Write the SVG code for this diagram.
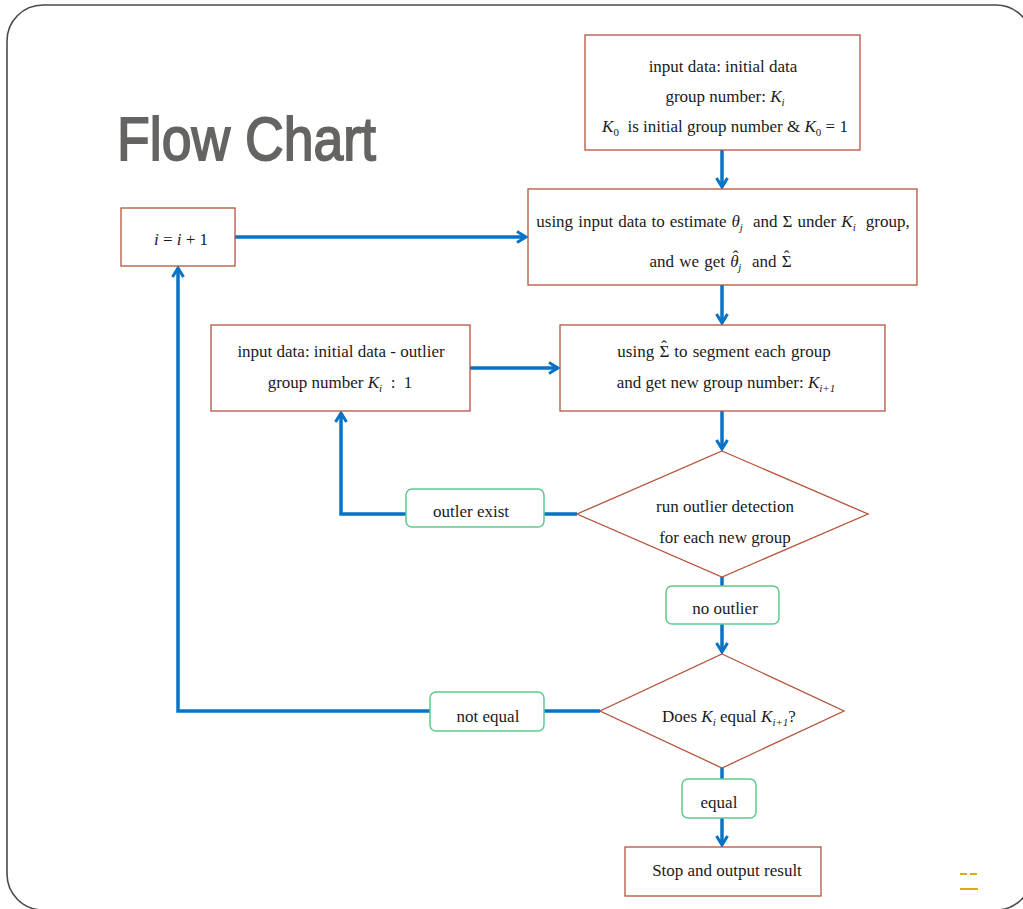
<svg xmlns="http://www.w3.org/2000/svg" width="1023" height="909" viewBox="0 0 1023 909">
<defs>
<style>
.box{fill:#fff;stroke:#B5533B;stroke-width:1.3}
.lbl{fill:#fff;stroke:#5CCB8C;stroke-width:1.5}
.t{font-family:"Liberation Serif","DejaVu Serif",serif;font-size:17px;fill:#1a1a1a;text-anchor:middle;white-space:pre}
.m{font-style:italic}
.s{font-size:11px}
.c{fill:none;stroke:#0872C6;stroke-width:3.5}
</style>
<marker id="arr" viewBox="0 0 14 14" refX="12" refY="7" markerWidth="14" markerHeight="14" markerUnits="userSpaceOnUse" orient="auto">
<path d="M3,1.5 L12,7 L3,12.5" fill="none" stroke="#0872C6" stroke-width="3" stroke-linejoin="miter"/>
</marker>
</defs>
<rect width="1023" height="909" fill="#fff"/>
<rect x="7" y="5" width="1025" height="905" rx="36" fill="none" stroke="#4a4a4a" stroke-width="1.6"/>
<text x="117" y="160" font-family="Liberation Sans, Arial, sans-serif" font-size="62" fill="#666462" stroke="#666462" stroke-width="1.8" textLength="259" lengthAdjust="spacingAndGlyphs">Flow Chart</text>

<g id="connectors">
<line class="c" x1="722" y1="150" x2="722" y2="187" marker-end="url(#arr)"/>
<line class="c" x1="235" y1="237" x2="526" y2="237" marker-end="url(#arr)"/>
<line class="c" x1="722" y1="285" x2="722" y2="323" marker-end="url(#arr)"/>
<line class="c" x1="470" y1="368" x2="558" y2="368" marker-end="url(#arr)"/>
<line class="c" x1="722" y1="411" x2="722" y2="449" marker-end="url(#arr)"/>
<polyline class="c" points="577,514 341,514 341,413" marker-end="url(#arr)"/>
<line class="c" x1="722" y1="577" x2="722" y2="586"/>
<line class="c" x1="722" y1="624" x2="722" y2="652" marker-end="url(#arr)"/>
<polyline class="c" points="600,711 178,711 178,268" marker-end="url(#arr)"/>
<line class="c" x1="722" y1="768" x2="722" y2="779"/>
<line class="c" x1="722" y1="818" x2="722" y2="845" marker-end="url(#arr)"/>
</g>

<g id="n_input">
<rect class="box" x="585" y="35" width="275" height="115"/>
<text class="t" x="723" y="72">input data: initial data</text>
<text class="t" x="725" y="102">group number: <tspan class="m">K</tspan><tspan class="s m" dy="4">i</tspan></text>
<text class="t" x="725" y="132"><tspan class="m">K</tspan><tspan class="s" dy="4">0</tspan><tspan dy="-4">  is initial group number &amp; </tspan><tspan class="m">K</tspan><tspan class="s" dy="4">0</tspan><tspan dy="-4"> = 1</tspan></text>
</g>

<g id="n_inc">
<rect class="box" x="121" y="208" width="114" height="58"/>
<text class="t" x="181" y="245"><tspan class="m">i</tspan> = <tspan class="m">i</tspan> + 1</text>
</g>

<g id="n_estimate">
<rect class="box" x="528" y="189" width="389" height="96"/>
<text class="t" x="723" y="227" word-spacing="0.8">using input data to estimate <tspan class="m">θ</tspan><tspan class="s m" dy="4">j</tspan><tspan dy="-4">  and Σ under </tspan><tspan class="m">K</tspan><tspan class="s m" dy="4">i</tspan><tspan dy="-4">  group,</tspan></text>
<text class="t" x="723" y="267" word-spacing="1">and we get <tspan class="m">θ</tspan><tspan dx="-6" dy="-5">ˆ</tspan><tspan class="s m" dy="9">j</tspan><tspan dy="-4">  and Σ</tspan><tspan dx="-8" dy="-5">ˆ</tspan><tspan dx="2" dy="5"> </tspan></text>
</g>

<g id="n_outlier_input">
<rect class="box" x="211" y="325" width="259" height="86"/>
<text class="t" x="341" y="357">input data: initial data - outlier</text>
<text class="t" x="340" y="388">group number <tspan class="m">K</tspan><tspan class="s m" dy="4">i</tspan><tspan dy="-4">  :  1</tspan></text>
</g>

<g id="n_segment">
<rect class="box" x="560" y="325" width="325" height="86"/>
<text class="t" x="724" y="357" word-spacing="1">using Σ<tspan dx="-8" dy="-5">ˆ</tspan><tspan dx="2" dy="5"> to segment each group</tspan></text>
<text class="t" x="726" y="388">and get new group number: <tspan class="m">K</tspan><tspan class="s m" dy="4">i+1</tspan></text>
</g>

<g id="n_detect">
<polygon class="box" points="722,451 868,514 722,577 577,514"/>
<text class="t" x="725" y="512">run outlier detection</text>
<text class="t" x="725" y="543">for each new group</text>
</g>

<g id="l_exist">
<rect class="lbl" x="406" y="489" width="138" height="38" rx="6"/>
<text class="t" x="471" y="517">outler exist</text>
</g>

<g id="l_noout">
<rect class="lbl" x="666" y="586" width="113" height="38" rx="6"/>
<text class="t" x="725" y="614">no outlier</text>
</g>

<g id="n_equal">
<polygon class="box" points="722,654 844,711 722,768 600,711"/>
<text class="t" x="729" y="722">Does <tspan class="m">K</tspan><tspan class="s m" dy="4">i</tspan><tspan dy="-4"> equal </tspan><tspan class="m">K</tspan><tspan class="s m" dy="4">i+1</tspan><tspan dy="-4">?</tspan></text>
</g>

<g id="l_noteq">
<rect class="lbl" x="430" y="692" width="114" height="39" rx="6"/>
<text class="t" x="488" y="722">not equal</text>
</g>

<g id="l_eq">
<rect class="lbl" x="682" y="779" width="74" height="39" rx="6"/>
<text class="t" x="719" y="808">equal</text>
</g>

<g id="n_stop">
<rect class="box" x="625" y="847" width="196" height="49"/>
<text class="t" x="727" y="876">Stop and output result</text>
</g>

<g id="footer_mark" stroke="#E3A812" stroke-width="2">
<line x1="960" y1="874" x2="967" y2="874"/>
<line x1="970" y1="874" x2="977" y2="874"/>
<line x1="960" y1="889" x2="978" y2="889"/>
</g>
</svg>
